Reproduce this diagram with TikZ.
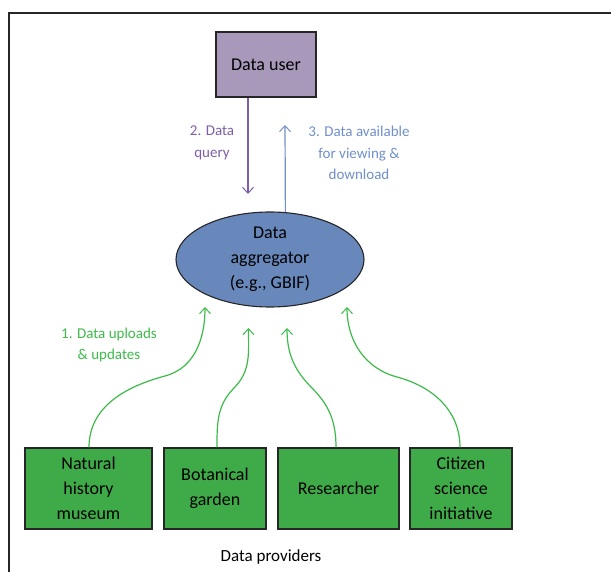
\documentclass[tikz,border=0pt]{standalone}
\usepackage{fontspec}
\setmainfont{Carlito}
\usetikzlibrary{shapes.geometric,arrows.meta}
\definecolor{userfill}{HTML}{A898B9}
\definecolor{querycol}{HTML}{7D5EA8}
\definecolor{availcol}{HTML}{6F8FCB}
\definecolor{aggfill}{HTML}{6888BB}
\definecolor{provfill}{HTML}{3FAA48}
\definecolor{upcol}{HTML}{3DBB4A}
\tikzset{
  box/.style={draw=black!85, line width=1.1pt, inner sep=0pt, align=center, font=\fontsize{18}{25}\selectfont},
  provbox/.style={box, fill=provfill},
  lbl/.style={align=center, font=\fontsize{15}{21.5}\selectfont},
  tip/.style={-{Straight Barb[length=6pt,width=11pt,line width=1pt]}, line width=1.2pt},
  uparrow/.style={tip, draw=upcol},
}
\begin{document}
\begin{tikzpicture}[x=1pt,y=-1pt]
\useasboundingbox (0,0) rectangle (611,572);
\draw[line width=1.5pt, black!85] (615,13) -- (9,13) -- (9,576);
% data user
\node[box, fill=userfill, minimum width=100pt, minimum height=65pt] (du) at (266,64.5) {Data user};
% aggregator
\node[box, ellipse, fill=aggfill, minimum width=188pt, minimum height=95pt] (agg) at (270,259.5) {Data\\aggregator\\(e.g., GBIF)};
% providers
\node[provbox, minimum width=127pt, minimum height=81pt] (p1) at (88.5,488.5) {Natural\\history\\museum};
\node[provbox, minimum width=102pt, minimum height=81pt] (p2) at (215,488.5) {Botanical\\garden};
\node[provbox, minimum width=121pt, minimum height=81pt] (p3) at (338.5,488.5) {Researcher};
\node[provbox, minimum width=102pt, minimum height=81pt] (p4) at (461,488.5) {Citizen\\science\\initiative};
\node[font=\fontsize{17}{20}\selectfont] (prov) at (271,557) {Data providers};
% query / available
\coordinate (qend) at (248,194);
\coordinate (aend) at (285,125);
\draw[tip, draw=querycol] ([xshift=-18pt]du.south) -- (qend);
\draw[tip, draw=availcol] (agg.72) -- (aend);
\node[lbl, text=querycol] (ql) at (212,143) {2. Data\\query};
\node[lbl, text=availcol] (al) at (359,153) {3. Data available\\for viewing \&\\download};
% uploads
\coordinate (t1) at (205,307);
\coordinate (t2) at (248.5,328);
\coordinate (t3) at (287,328);
\coordinate (t4) at (347,307);
\coordinate (m1) at (165,376);
\coordinate (m2) at (234,388);
\coordinate (m3) at (312,388);
\coordinate (m4) at (397,377);
\draw[uparrow] ([xshift=0.5pt]p1.north) to[out=90,in=195] (m1) to[out=15,in=-90] (t1);
\draw[uparrow] ([xshift=2pt]p2.north) to[out=90,in=225] (m2) to[out=45,in=-90] (t2);
\draw[uparrow] ([xshift=-2.5pt]p3.north) to[out=90,in=-45] (m3) to[out=135,in=-90] (t3);
\draw[uparrow] ([xshift=-1pt]p4.north) to[out=90,in=-15] (m4) to[out=165,in=-90] (t4);
\node[lbl, text=upcol] (ul) at (109,345) {1. Data uploads\\\& updates};
\end{tikzpicture}
\end{document}
